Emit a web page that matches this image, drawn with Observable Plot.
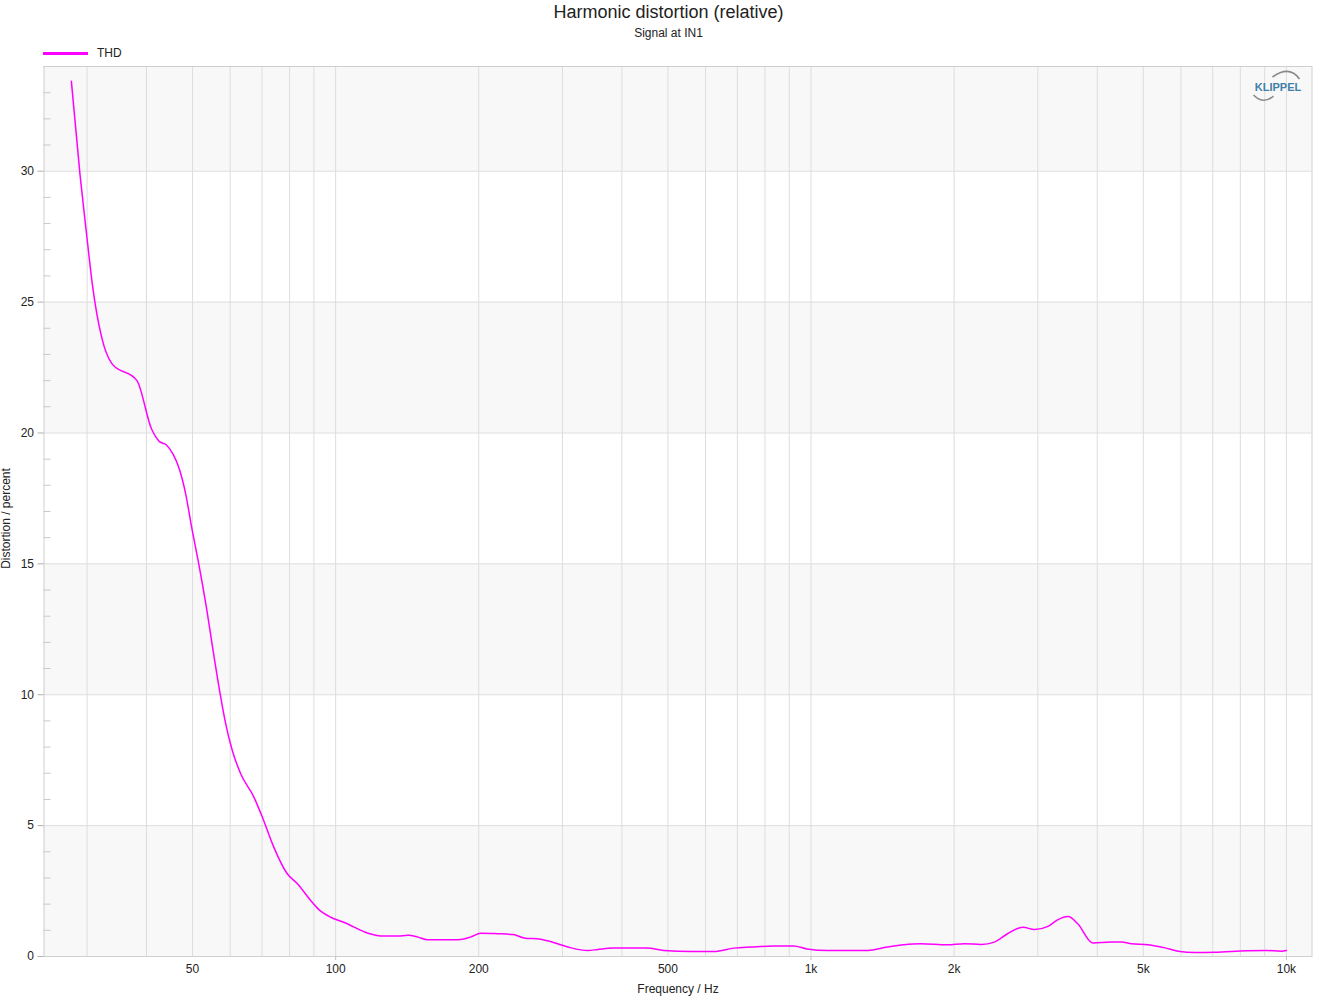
<!DOCTYPE html>
<html>
<head>
<meta charset="utf-8">
<script src="https://cdn.jsdelivr.net/npm/d3@7"></script>
<script src="https://cdn.jsdelivr.net/npm/@observablehq/plot@0.6"></script>
<style>
  html, body { margin: 0; padding: 0; background: #fff; }
  body { width: 1337px; height: 998px; position: relative; overflow: hidden;
         font-family: "Liberation Sans", Arial, sans-serif; color: #222; }
  #header { position: relative; height: 60px; }
  #title { position: absolute; left: 0; width: 1337px; top: 3px; text-align: center; font-size: 18px; line-height: 18px; color: #222; }
  #subtitle { position: absolute; left: 0; width: 1337px; top: 27px; text-align: center; font-size: 12px; line-height: 12px; color: #222; }
  #legend-line { position: absolute; left: 43px; top: 51.5px; width: 45px; height: 3px; }
  #legend-text { position: absolute; left: 97px; top: 47px; font-size: 12px; line-height: 12px; color: #222; }
  #chart svg { display: block; }
</style>
</head>
<body>
<div id="header">
  <div id="title"></div>
  <div id="subtitle"></div>
  <div id="legend-line"></div>
  <div id="legend-text"></div>
</div>
<div id="chart"></div>
<script>
const titleText = "Harmonic distortion (relative)";
const subtitleText = "Signal at IN1";
const seriesName = "THD";
const xLabel = "Frequency / Hz";
const yLabel = "Distortion / percent";
const logoText = "KLIPPEL";
const lineColor = "#ff00ff";

const xDomain = [24.35, 11320];
const yDomain = [0, 34];

const freq = [27.8, 29.0, 30.0, 30.8, 32.2, 33.8, 38.2, 41.0, 42.6, 44.0, 45.5, 46.9, 48.3, 49.9,
  51.5, 53.3, 55.5, 57.3, 58.7, 60.6, 63.1, 67.3, 70.1, 74.1, 79.1, 83.1, 88.6, 92.2, 97.6,
  104, 117, 126, 135, 142, 149, 156, 172, 181, 192, 202, 219, 236, 249, 270, 293, 313, 339,
  356, 385, 452, 490, 560, 625, 688, 748, 836, 920, 980, 1086, 1316, 1446, 1567, 1700, 1935,
  2100, 2280, 2431, 2590, 2790, 2952, 3150, 3300, 3475, 3640, 3915, 4280, 4497, 4723, 5120,
  5550, 5920, 6420, 7070, 8270, 9100, 9740, 10000];
const thd = [33.44, 29.84, 27.42, 25.63, 23.65, 22.66, 22.0, 20.15, 19.67, 19.55, 19.19, 18.62, 17.72, 16.30,
  15.02, 13.49, 11.45, 9.92, 8.90, 7.88, 6.99, 6.09, 5.33, 4.18, 3.16, 2.78, 2.14, 1.79, 1.50,
  1.31, 0.89, 0.78, 0.78, 0.81, 0.74, 0.64, 0.64, 0.64, 0.74, 0.89, 0.87, 0.84, 0.71, 0.66, 0.49, 0.33, 0.23,
  0.27, 0.32, 0.32, 0.23, 0.19, 0.19, 0.32, 0.36, 0.40, 0.40, 0.29, 0.23, 0.23, 0.36, 0.45, 0.49, 0.45,
  0.49, 0.46, 0.55, 0.87, 1.12, 1.03, 1.15, 1.40, 1.53, 1.25, 0.52, 0.55, 0.55, 0.49, 0.45,
  0.33, 0.20, 0.15, 0.16, 0.22, 0.23, 0.20, 0.23];

const xTickLabels = [50, 100, 200, 500, 1000, 2000, 5000, 10000];
const xDecades = [100, 1000, 10000];
const xGrid = [30, 40, 50, 60, 70, 80, 90,
  100, 200, 300, 400, 500, 600, 700, 800, 900,
  1000, 2000, 3000, 4000, 5000, 6000, 7000, 8000, 9000, 10000];
const yMajor = [0, 5, 10, 15, 20, 25, 30];
const yMinor = d3.range(0, 35, 1).filter(v => v % 5 !== 0);

document.getElementById("title").textContent = titleText;
document.getElementById("subtitle").textContent = subtitleText;
document.getElementById("legend-line").style.background = lineColor;
document.getElementById("legend-text").textContent = seriesName;

const data = freq.map((f, i) => ({f, v: thd[i]}));
const bandEdges = [...yMajor, yDomain[1]];
const bands = [];
for (let i = 0; i < bandEdges.length - 1; i += 2) bands.push({y1: bandEdges[i], y2: bandEdges[i + 1]});

const W = 1337, H = 938;
const mL = 43.5, mR = 25.5, mT = 6, mB = 42;
const frameW = W - mL - mR;

const fmt = d => d >= 1000 ? (d / 1000) + "k" : String(d);

const chart = Plot.plot({
  width: W, height: H,
  marginLeft: mL, marginRight: mR, marginTop: mT, marginBottom: mB,
  style: {fontFamily: "Liberation Sans, Arial, sans-serif", fontSize: "12px", color: "#222", background: "#fff"},
  x: {type: "log", domain: xDomain},
  y: {domain: yDomain},
  marks: [
    Plot.rect(bands, {x1: xDomain[0], x2: xDomain[1], y1: "y1", y2: "y2", fill: "#f8f8f8"}),
    Plot.ruleX(xGrid, {stroke: "#dddddd", strokeWidth: 1}),
    Plot.ruleY(yMajor, {stroke: "#dddddd", strokeWidth: 1}),
    Plot.ruleY(yMinor, {stroke: "#c8c8c8", strokeWidth: 1, insetRight: frameW - 7}),
    Plot.frame({stroke: "#cfcfcf", strokeWidth: 1}),
    Plot.axisY(yMajor, {tickSize: 6, tickPadding: 4, stroke: "#b0b0b0", fill: "#222", fontSize: 12, label: null}),
    Plot.axisX(xDecades, {tickSize: 4, text: null, stroke: "#c0c0c0", label: null}),
    Plot.axisX(xTickLabels, {tickSize: 0, tickPadding: 8, tickFormat: fmt, fill: "#222", fontSize: 12, label: null}),
    Plot.text([xLabel], {frameAnchor: "bottom", dy: 33, text: d => d, fill: "#222", fontSize: 12, lineAnchor: "middle"}),
    Plot.text([yLabel], {frameAnchor: "left", dx: -38, dy: 7, rotate: -90, text: d => d, fill: "#222", fontSize: 12, lineAnchor: "middle", textAnchor: "middle"}),
    Plot.text([logoText], {frameAnchor: "top-right", dx: -34, dy: 21, text: d => d, fill: "#3f7fa8", fontSize: 11, fontWeight: "bold", lineAnchor: "middle", textAnchor: "middle"}),
    Plot.line(data, {x: "f", y: "v", stroke: lineColor, strokeWidth: 1.5, curve: "monotone-x"})
  ]
});

// decorative arcs of the logo, placed relative to the frame corner
const svg = d3.select(chart.tagName.toLowerCase() === "svg" ? chart : chart.querySelector("svg"));
const cx = W - mR - 34, cy = mT + 21;
svg.append("path")
  .attr("d", `M${cx - 5},${cy - 10} Q${cx + 12},${cy - 22} ${cx + 22},${cy - 8}`)
  .attr("fill", "none").attr("stroke", "#8a8a8a").attr("stroke-width", 1.6);
svg.append("path")
  .attr("d", `M${cx - 24},${cy + 8} Q${cx - 14},${cy + 18} ${cx - 4},${cy + 9}`)
  .attr("fill", "none").attr("stroke", "#8a8a8a").attr("stroke-width", 1.6);

document.getElementById("chart").appendChild(chart);
</script>
</body>
</html>
